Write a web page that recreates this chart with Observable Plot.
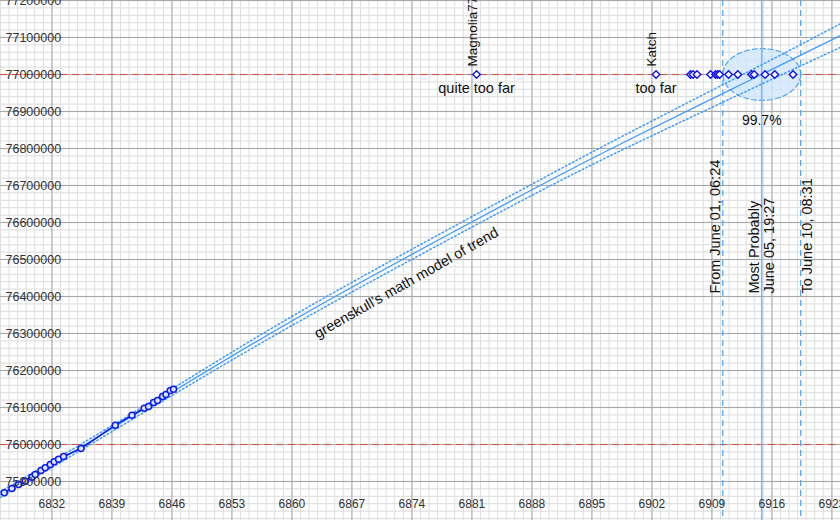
<!DOCTYPE html>
<html><head><meta charset="utf-8">
<script src="https://cdn.jsdelivr.net/npm/d3@7"></script>
<script src="https://cdn.jsdelivr.net/npm/@observablehq/plot@0.6"></script>
<style>body{margin:0;background:#fff;} svg{display:block}</style>
</head><body><div id="chart"></div>
<script>
// observed counts
const observedDay = [6826.44, 6827.33, 6828.11, 6828.89, 6829.67, 6830.05, 6830.72, 6831.22, 6831.80, 6832.27, 6832.77, 6833.36, 6835.39, 6839.39, 6841.34, 6842.77, 6843.27, 6843.86, 6844.32, 6844.91, 6845.30, 6845.80, 6846.19];
const observedCount = [75869500, 75881100, 75891900, 75900800, 75911600, 75918900, 75929700, 75937000, 75945900, 75953200, 75960300, 75967600, 75989200, 76052200, 76079200, 76098100, 76102700, 76113500, 76118900, 76129700, 76135100, 76145900, 76149500];
// trend model
const trendDay   = [6826, 6835.33, 6846.53, 6858.67, 6872.67, 6887.84, 6899.85, 6914.79, 6924];
const trendCount = [75864900, 75991900, 76148600, 76316200, 76497300, 76686500, 76829700, 77000000, 77105400];
const trendLow   = [75856900, 75983900, 76139600, 76304200, 76483800, 76671500, 76810700, 76974000, 77073400];
const trendHigh  = [75872900, 75999900, 76157600, 76328200, 76510800, 76701500, 76848700, 77026000, 77137400];
// guesses
const goalCount = 77000000;
const guessDay = [6881.54, 6902.48, 6906.50, 6906.80, 6907.26, 6908.84, 6909.42, 6909.66, 6909.89, 6910.94, 6912.02, 6913.62, 6913.93, 6915.20, 6916.33, 6918.46];
const namedGuessDay = [6881.54, 6902.48];
const namedGuessName = ["Magnolia777", "Katch"];
const namedGuessNote = ["quite too far", "too far"];
const goalLines = [77000000, 76000000];
// window
const windowFrom = 6910.267, mostProbable = 6914.81, windowTo = 6919.355;
const windowLabels = ["From June 01, 06:24", "Most Probably\nJune 05, 19:27", "To June 10, 08:31"];
const windowLabelBase = 76408000;
const ellipseHalfHeight = 70000;
const confidenceLabel = "99.7%";
const trendLabel = "greenskull's math model of trend";
const trendLabelDay = 6873.35, trendLabelCount = 76436500;
// ticks
const xTicks = d3.range(6832, 6924, 7);
const yTicks = d3.range(75900000, 77200001, 100000);
const xMinor = d3.range(6826, 6925, 1);
const yMinor = d3.range(75800000, 77200001, 20000);

const observed = observedDay.map((d, i) => ({day: d, count: observedCount[i]}));
const trend = trendDay.map((d, i) => ({day: d, count: trendCount[i], low: trendLow[i], high: trendHigh[i]}));
const named = namedGuessDay.map((d, i) => ({day: d, name: namedGuessName[i], note: namedGuessNote[i]}));
const rx = (windowTo - windowFrom) / 2;
const ellipse = d3.range(0, 360, 5).map(a => ({
  day: mostProbable + rx * Math.cos(a * Math.PI / 180),
  count: goalCount + ellipseHalfHeight * Math.sin(a * Math.PI / 180)
}));

const font = "Liberation Sans, Arial, Helvetica, sans-serif";
const blueLight = "#3d9bff";

const chart = Plot.plot({
  width: 840, height: 520, margin: 0,
  style: {fontFamily: font, background: "#fff"},
  x: {domain: [6826, 6924], axis: null},
  y: {domain: [75794600, 77200000], axis: null},
  marks: [
    Plot.ruleX(xMinor, {stroke: "#dedede", strokeWidth: 1}),
    Plot.ruleY(yMinor, {stroke: "#e2e2e2", strokeWidth: 1.3}),
    Plot.ruleX(xTicks, {stroke: "#a8a8a8", strokeWidth: 1}),
    Plot.ruleY(yTicks, {stroke: "#a8a8a8", strokeWidth: 1}),
    Plot.ruleY(goalLines, {stroke: "#d0503f", strokeWidth: 1.2, strokeDasharray: "7,5"}),
    Plot.line(ellipse, {x: "day", y: "count", curve: "linear-closed", fill: "#cfe6fb", fillOpacity: 0.8, stroke: "#4aa3f5", strokeWidth: 1.2, strokeDasharray: "5,3"}),
    Plot.ruleX([windowFrom, windowTo], {stroke: "#4aa3f5", strokeWidth: 1.2, strokeDasharray: "6,4"}),
    Plot.ruleX([mostProbable], {stroke: "#7fb6f2", strokeWidth: 1.6}),
    Plot.line(trend, {x: "day", y: "low", curve: "natural", stroke: blueLight, strokeWidth: 1.5, strokeDasharray: "1.5,2.5"}),
    Plot.line(trend, {x: "day", y: "high", curve: "natural", stroke: blueLight, strokeWidth: 1.5, strokeDasharray: "1.5,2.5"}),
    Plot.line(trend, {x: "day", y: "count", curve: "natural", stroke: blueLight, strokeWidth: 1.3}),
    Plot.line(observed, {x: "day", y: "count", stroke: "#0a1cf0", strokeWidth: 1.6}),
    Plot.dot(observed, {x: "day", y: "count", r: 3, stroke: "#0a1cf0", strokeWidth: 1.5, fill: "#dfe4ff"}),
    Plot.dot(guessDay, {x: d => d, y: () => goalCount, symbol: "diamond2", r: 3.4, stroke: "#1010ee", strokeWidth: 1.4, fill: "white"}),
    Plot.text(named, {x: "day", y: () => goalCount, text: "name", rotate: -90, textAnchor: "start", dx: -4, dy: -8, fontSize: 13.5, fill: "#111"}),
    Plot.text(named, {x: "day", y: () => goalCount, text: "note", dy: 14, fontSize: 14.5, fill: "#111"}),
    Plot.text([confidenceLabel], {x: () => mostProbable, y: () => goalCount, dy: 46, fontSize: 14, fill: "#111"}),
    Plot.text([windowLabels[0]], {x: () => windowFrom, y: () => windowLabelBase, rotate: -90, textAnchor: "start", dx: -7, fontSize: 14.5, fill: "#111"}),
    Plot.text([windowLabels[1]], {x: () => mostProbable, y: () => windowLabelBase, rotate: -90, textAnchor: "start", lineHeight: 1.02, fontSize: 14.5, fill: "#111"}),
    Plot.text([windowLabels[2]], {x: () => windowTo, y: () => windowLabelBase, rotate: -90, textAnchor: "start", dx: 7, fontSize: 14.5, fill: "#111"}),
    Plot.text([trendLabel], {x: () => trendLabelDay, y: () => trendLabelCount, rotate: -29.6, fontSize: 14.5, fill: "#111"}),
    Plot.text(yTicks, {y: d => d, frameAnchor: "left", textAnchor: "start", dx: 5, text: d => String(d), fontSize: 12.5, fill: "#333"}),
    Plot.text(xTicks, {x: d => d, frameAnchor: "bottom", dy: -13, text: d => String(d), fontSize: 12, fill: "#333"})
  ]
});
document.getElementById("chart").append(chart);
</script>
</body></html>
